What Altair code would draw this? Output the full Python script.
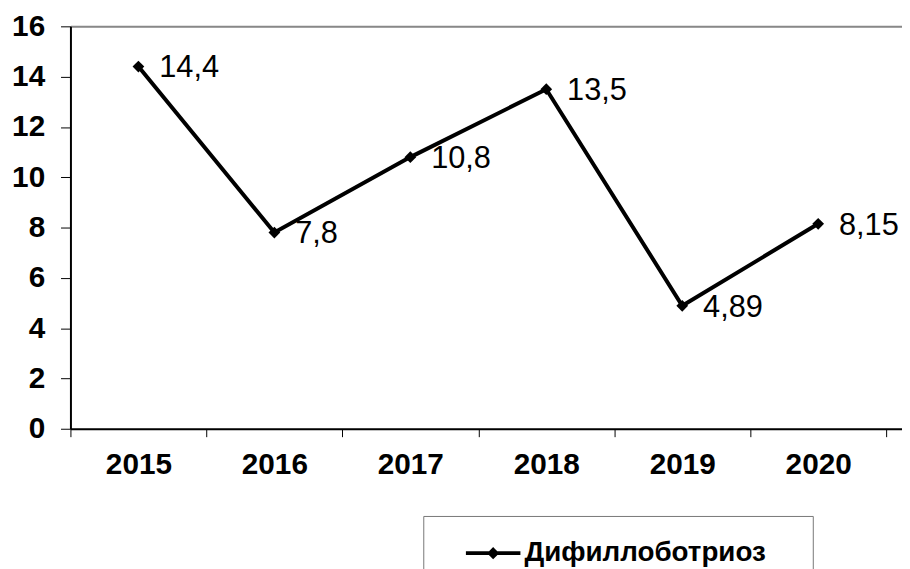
import altair as alt
import pandas as pd

years = ["2015", "2016", "2017", "2018", "2019", "2020"]
values = [14.4, 7.8, 10.8, 13.5, 4.89, 8.15]
labels = ["14,4", "7,8", "10,8", "13,5", "4,89", "8,15"]
series = "Дифиллоботриоз"
y_ticks = list(range(0, 17, 2))

df = pd.DataFrame({
    "year": years,
    "value": values,
    "label": labels,
    "series": [series] * len(years),
    "pos": [i + 0.5 for i in range(len(years))],
})

FONT = "Liberation Sans"
n = len(years)
bound_vals = list(range(0, n + 1))
label_vals = [i + 0.5 for i in range(n)]
year_arr = "[" + ",".join("'%s'" % y for y in years) + "]"
TRAIL = "\u00a0" * 5 + "\u200b"

x_dom = [0, 839 / 137.17]
xs = alt.Scale(domain=x_dom, nice=False, zero=False)
ys = alt.Scale(domain=[0, 16], nice=False)

y_axis = alt.Axis(values=y_ticks, title=None, grid=False, tickSize=10,
                  tickColor="black", tickWidth=1, domainColor="black", domainWidth=2,
                  labelFont=FONT, labelFontSize=30, labelFontWeight="bold", labelColor="black",
                  labelPadding=16)

base = alt.Chart(df)

line = base.mark_line(strokeWidth=4).encode(
    x=alt.X("pos:Q", scale=xs, axis=alt.Axis(orient="bottom", values=bound_vals, labels=False,
                                             title=None, grid=False, tickSize=8, tickColor="black",
                                             tickWidth=1, domainColor="black", domainWidth=2)),
    y=alt.Y("value:Q", scale=ys, axis=y_axis),
    color=alt.Color("series:N", scale=alt.Scale(range=["black"]),
                    legend=alt.Legend(orient="none", legendX=356, legendY=494, title=None,
                                      strokeColor="#777", padding=8,
                                      symbolType="M-1,0L1,0M0,-0.12L0.12,0L0,0.12L-0.12,0Z",
                                      symbolSize=3025, symbolStrokeWidth=4,
                                      symbolStrokeColor="black", symbolFillColor="black",
                                      symbolOffset=33, labelOffset=2, labelLimit=500,
                                      labelFont=FONT, labelFontSize=28, labelFontWeight="bold",
                                      labelColor="black", labelExpr="datum.label + '" + TRAIL + "'")),
)

points = base.mark_point(shape="diamond", filled=True, size=140, color="black", opacity=1).encode(
    x=alt.X("pos:Q", scale=xs, axis=alt.Axis(orient="top", labels=False, ticks=False, title=None,
                                             grid=False, domainColor="#888", domainWidth=2)),
    y=alt.Y("value:Q", scale=ys),
)

text = base.mark_text(align="left", baseline="middle", dx=21, dy=2, font=FONT, fontSize=31,
                      color="black").encode(
    x=alt.X("pos:Q", scale=xs, axis=alt.Axis(orient="bottom", values=label_vals, ticks=False,
                                             domain=False, grid=False, title=None,
                                             labelExpr=year_arr + "[floor(datum.value)]",
                                             labelFont=FONT, labelFontSize=30,
                                             labelFontWeight="bold", labelColor="black",
                                             labelPadding=21)),
    y=alt.Y("value:Q", scale=ys),
    text="label:N",
)

chart = alt.layer(line, points, text).resolve_axis(x="independent").properties(
    width=839, height=406,
    autosize=alt.AutoSizeParams(type="none"),
    padding={"left": 63, "top": 16, "right": 0, "bottom": 139},
).configure_view(stroke=None).configure(background="white")

chart.save("out.html", embed_options={"renderer": "svg", "actions": False})
